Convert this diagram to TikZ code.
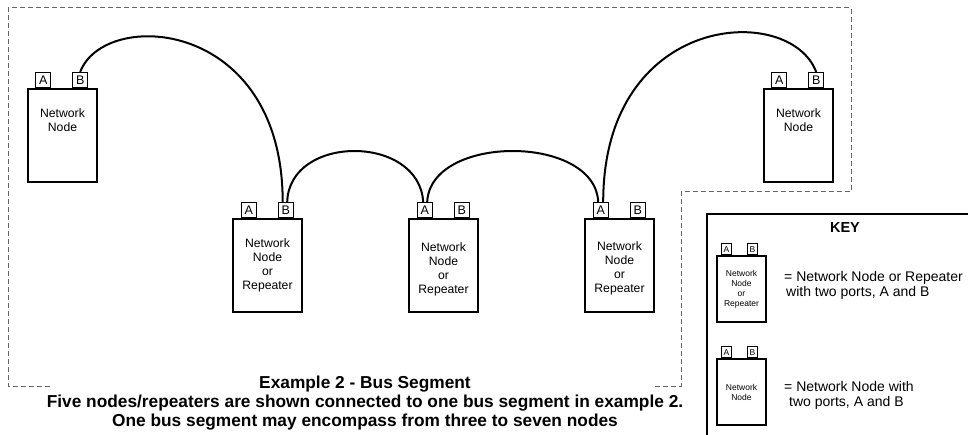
\documentclass[tikz,border=0pt]{standalone}
\usepackage{fontspec}
\setmainfont{Liberation Sans}
\usetikzlibrary{positioning}

\begin{document}
\begin{tikzpicture}[x=1pt,y=-1pt,
    unit/.style={draw, line width=1.6pt, minimum width=69pt, minimum height=93pt, inner sep=0pt},
    unittext/.style={align=center, inner sep=0pt, font=\fontsize{12.2}{14}\selectfont},
    port/.style={draw, fill=white, line width=1.2pt, minimum size=15pt, inner sep=0pt, anchor=south, font=\fontsize{12.5}{12.5}\selectfont},
    keyunit/.style={draw, line width=1.3pt, minimum width=49pt, minimum height=66pt, inner sep=0pt, align=center, font=\fontsize{8.5}{10}\selectfont},
    keyport/.style={draw, fill=white, line width=1pt, minimum width=10pt, minimum height=11pt, inner sep=0pt, anchor=south, font=\fontsize{8.5}{8.5}\selectfont},
    keytext/.style={anchor=west, inner sep=0pt, font=\fontsize{14}{16}\selectfont},
    bus/.style={line width=2pt},
    frame/.style={draw=black!60, line width=1pt, dash pattern=on 5pt off 3pt}]

    \useasboundingbox (0,0) rectangle (968,435);

    % dashed bus segment outline
    \draw[frame] (50,386) -| (8,8) -| (851,192) -| (681,386) -- (655,386);

    % end nodes
    \node[unit] (nl) at (62.5,135.5) {};
    \node[unittext, below=20pt of nl.north] (nltext) {Network\\Node};
    \node[port] (nlA) at ([xshift=16pt]nl.north west) {A};
    \node[port] (nlB) at ([xshift=53pt]nl.north west) {B};

    \node[unit] (nr) at (798.5,135.5) {};
    \node[unittext, below=20pt of nr.north] (nrtext) {Network\\Node};
    \node[port] (nrA) at ([xshift=16pt]nr.north west) {A};
    \node[port] (nrB) at ([xshift=53pt]nr.north west) {B};

    % repeaters
    \foreach \n/\x/\d in {r1/267.5/20pt, r2/443.5/24pt, r3/619.5/23pt}{
        \node[unit] (\n) at (\x,265.5) {};
        \node[unittext, below=\d of \n.north] (\n text) {Network\\Node\\or\\Repeater};
        \node[port] (\n A) at ([xshift=16.5pt]\n.north west) {A};
        \node[port] (\n B) at ([xshift=53.5pt]\n.north west) {B};
    }

    % bus cable
    \draw[bus] (nlB.north) .. controls +(24,-64) and +(0,-184) .. ([xshift=-3pt]r1B.north);
    \draw[bus] ([xshift=1.5pt]r1B.north) .. controls +(2,-68) and +(-4,-68) .. ([xshift=-1.5pt]r2A.north);
    \draw[bus] ([xshift=2.5pt]r2A.north) .. controls +(3,-68) and +(-3,-68) .. ([xshift=-2.5pt]r3A.north);
    \draw[bus] ([xshift=2.5pt]r3A.north) .. controls +(0,-190) and +(-26,-70) .. (nrB.north);

    % key
    \draw[line width=2.2pt] (707,440) |- (975,214);
    \node[font=\bfseries\fontsize{14.5}{16}\selectfont] (keytitle) at (845,228) {KEY};

    \node[keyunit] (k1) at (741.5,289) {Network\\Node\\or\\Repeater};
    \node[keyport] (k1A) at ([xshift=10pt]k1.north west) {A};
    \node[keyport] (k1B) at ([xshift=36pt]k1.north west) {B};
    \node[keytext] (k1text) at (784,278) {= Network Node or Repeater};
    \node[keytext] (k1more) at (786,293) {with two ports, A and B};

    \node[keyunit] (k2) at (741.5,392) {Network\\Node};
    \node[keyport] (k2A) at ([xshift=10pt]k2.north west) {A};
    \node[keyport] (k2B) at ([xshift=36pt]k2.north west) {B};
    \node[keytext] (k2text) at (784,386) {= Network Node with};
    \node[keytext] (k2more) at (789,403) {two ports, A and B};

    % caption
    \node[align=center, inner sep=0pt, font=\bfseries\fontsize{17.3}{19}\selectfont] (caption) at (365,403)
        {Example 2 - Bus Segment\\
         Five nodes/repeaters are shown connected to one bus segment in example 2.\\
         One bus segment may encompass from three to seven nodes};
\end{tikzpicture}
\end{document}
